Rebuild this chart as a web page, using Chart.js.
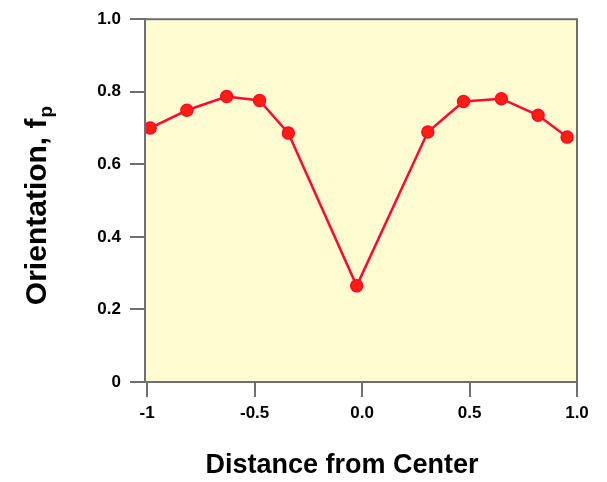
<!DOCTYPE html>
<html>
<head>
<meta charset="utf-8">
<script src="https://cdn.jsdelivr.net/npm/chart.js@4/dist/chart.umd.min.js"></script>
<style>
  html, body { margin: 0; padding: 0; background: #fff; }
  #wrap { width: 607px; height: 482px; }
</style>
</head>
<body>
<div id="wrap"><canvas id="fpChart" width="607" height="482"></canvas></div>
<script>
const distance    = [-0.986, -0.815, -0.63, -0.477, -0.343, -0.025, 0.306, 0.472, 0.648, 0.819, 0.954];
const orientation = [0.700, 0.749, 0.787, 0.776, 0.686, 0.265, 0.689, 0.773, 0.781, 0.735, 0.675];
const xTicks = [-1, -0.5, 0, 0.5, 1];
const xTickLabels = ['-1', '-0.5', '0.0', '0.5', '1.0'];
const yTicks = [0, 0.2, 0.4, 0.6, 0.8, 1.0];
const yTickLabels = ['0', '0.2', '0.4', '0.6', '0.8', '1.0'];

const axisGray = '#6f6f6f';
const font = 'Liberation Sans, Arial, sans-serif';

// yellow plot background, grey frame, axis titles (y title has a subscript)
const decor = {
    id: 'decor',
    beforeDraw(chart) {
        const { ctx, chartArea: a } = chart;
        ctx.save();
        ctx.fillStyle = '#fffcd0';
        ctx.fillRect(a.left, a.top, a.right - a.left, a.bottom - a.top);
        ctx.restore();
    },
    afterDraw(chart) {
        const { ctx, chartArea: a } = chart;
        ctx.save();
        ctx.strokeStyle = axisGray;
        ctx.lineWidth = 2;
        ctx.strokeRect(a.left, a.top, a.right - a.left, a.bottom - a.top);

        ctx.fillStyle = '#000';
        ctx.textBaseline = 'middle';
        ctx.textAlign = 'center';
        ctx.font = `bold 27px ${font}`;
        ctx.fillText('Distance from Center', 342, 466);

        // rotated y title
        ctx.translate(38, 206);
        ctx.rotate(-Math.PI / 2);
        const main = 'Orientation, f';
        ctx.font = `bold 30px ${font}`;
        const w1 = ctx.measureText(main).width;
        ctx.font = `bold 19px ${font}`;
        const w2 = ctx.measureText('p').width;
        const x0 = -(w1 + w2) / 2;
        ctx.textAlign = 'left';
        ctx.font = `bold 30px ${font}`;
        ctx.fillText(main, x0, 0);
        ctx.font = `bold 19px ${font}`;
        ctx.fillText('p', x0 + w1 + 1, 9);
        ctx.restore();
    }
};

new Chart(document.getElementById('fpChart'), {
    type: 'scatter',
    data: {
        datasets: [{
            data: distance.map((d, i) => ({ x: d, y: orientation[i] })),
            showLine: true,
            tension: 0,
            borderColor: '#ff0a30',
            borderWidth: 2.5,
            pointRadius: 6,
            pointHoverRadius: 6,
            pointBackgroundColor: '#ff1e10',
            pointBorderColor: '#ff0a30',
            pointBorderWidth: 1.5,
        }],
    },
    options: {
        responsive: false,
        animation: false,
        events: [],
        layout: { padding: { top: 17, right: 30, left: 0, bottom: 0 } },
        plugins: {
            legend: { display: false },
            tooltip: { enabled: false },
        },
        scales: {
            x: {
                type: 'linear',
                min: -1.01,
                max: 1.0,
                afterBuildTicks: s => { s.ticks = xTicks.map(v => ({ value: v })); },
                afterFit: s => { s.height = 100; },
                grid: {
                    drawOnChartArea: false,
                    color: axisGray,
                    lineWidth: 2,
                    tickLength: 15,
                },
                border: { display: true, color: axisGray, width: 2 },
                ticks: {
                    color: '#000',
                    padding: 6,
                    font: { family: font, size: 17, weight: 'bold' },
                    maxRotation: 0,
                    callback: (v, i) => xTickLabels[i],
                },
            },
            y: {
                min: 0,
                max: 1.0,
                afterBuildTicks: s => { s.ticks = yTicks.map(v => ({ value: v })); },
                afterFit: s => { s.width = 145; },
                grid: {
                    drawOnChartArea: false,
                    color: axisGray,
                    lineWidth: 2,
                    tickLength: 15,
                },
                border: { display: true, color: axisGray, width: 2 },
                ticks: {
                    color: '#000',
                    padding: 9,
                    font: { family: font, size: 17, weight: 'bold' },
                    callback: (v, i) => yTickLabels[i],
                },
            },
        },
    },
    plugins: [decor],
});
</script>
</body>
</html>
